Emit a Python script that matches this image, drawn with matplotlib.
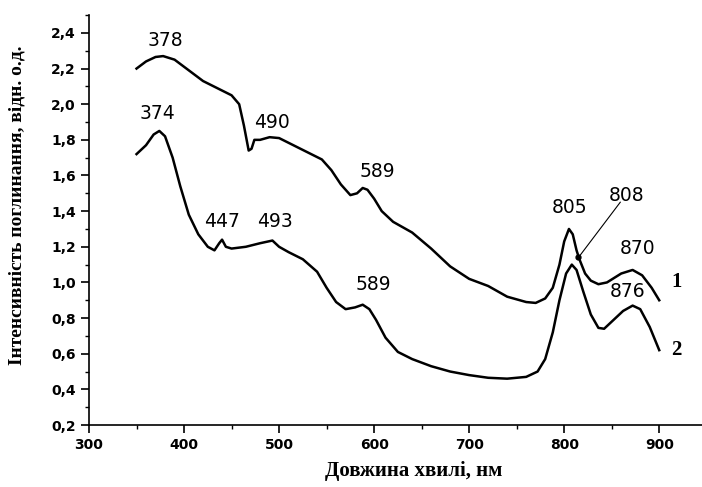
import matplotlib
matplotlib.use('Agg')
import matplotlib.pyplot as plt
from matplotlib.ticker import MultipleLocator

# спектр 1 (верхня крива)
wl_1 = [350, 360, 370, 378, 390, 405, 420, 435, 450, 458, 463, 468, 471, 474, 480, 490, 500,
        515, 530, 545, 555, 565, 575, 582, 588, 593, 600, 608, 620, 640, 660, 680, 700, 720,
        740, 760, 770, 780, 788, 795, 800, 805, 809, 813, 816, 822, 828, 836, 845, 860, 872,
        882, 892, 900]
abs_1 = [2.20, 2.24, 2.265, 2.27, 2.25, 2.19, 2.13, 2.09, 2.05, 2.00, 1.88, 1.74, 1.75, 1.80,
         1.80, 1.815, 1.81, 1.77, 1.73, 1.69, 1.63, 1.55, 1.49, 1.50, 1.53, 1.52, 1.47, 1.40,
         1.34, 1.28, 1.19, 1.09, 1.02, 0.98, 0.92, 0.89, 0.885, 0.91, 0.97, 1.10, 1.23, 1.30,
         1.27, 1.18, 1.13, 1.05, 1.01, 0.99, 1.00, 1.05, 1.07, 1.04, 0.97, 0.90]

# спектр 2 (нижня крива)
wl_2 = [350, 360, 368, 374, 380, 388, 396, 405, 415, 425, 432, 437, 440, 444, 450, 465, 480,
        493, 500, 510, 525, 540, 550, 560, 570, 580, 588, 595, 602, 612, 625, 640, 660, 680,
        700, 720, 740, 760, 772, 780, 788, 795, 802, 808, 813, 820, 828, 836, 842, 850, 862,
        872, 880, 890, 900]
abs_2 = [1.72, 1.77, 1.83, 1.85, 1.82, 1.70, 1.54, 1.38, 1.27, 1.20, 1.18, 1.22, 1.24, 1.20,
         1.19, 1.20, 1.22, 1.235, 1.20, 1.17, 1.13, 1.06, 0.97, 0.89, 0.85, 0.86, 0.875, 0.85,
         0.79, 0.69, 0.61, 0.57, 0.53, 0.50, 0.48, 0.465, 0.46, 0.47, 0.50, 0.57, 0.72, 0.90,
         1.05, 1.10, 1.07, 0.95, 0.82, 0.745, 0.74, 0.78, 0.84, 0.87, 0.85, 0.75, 0.62]

# підписи піків: текст, x, y
peak_labels = ['378', '374', '490', '447', '493', '589', '589', '805', '808', '870', '876']
peak_x = [380, 372, 493, 440, 496, 603, 599, 806, 866, 877, 867]
peak_y = [2.36, 1.95, 1.90, 1.34, 1.34, 1.62, 0.99, 1.42, 1.49, 1.19, 0.95]

curve_names = ['1', '2']
curve_name_x = [913, 912]
curve_name_y = [1.00, 0.62]

x_ticks = [300, 400, 500, 600, 700, 800, 900]
y_ticks = [0.2, 0.4, 0.6, 0.8, 1.0, 1.2, 1.4, 1.6, 1.8, 2.0, 2.2, 2.4]
y_tick_labels = ['0,2', '0,4', '0,6', '0,8', '1,0', '1,2', '1,4', '1,6', '1,8', '2,0', '2,2', '2,4']

fig = plt.figure(figsize=(7.02, 4.87), dpi=100)
ax = fig.add_axes([0.1268, 0.1273, 0.8732, 0.8417])

ax.plot(wl_1, abs_1, color='black', lw=1.8)
ax.plot(wl_2, abs_2, color='black', lw=1.8)

for t, x, y in zip(peak_labels, peak_x, peak_y):
    ax.text(x, y, t, ha='center', va='center', fontsize=13.5, family='DejaVu Sans')

# стрілка до піку 808
ax.plot([859, 815], [1.45, 1.14], color='black', lw=0.8)
ax.plot([815], [1.14], 'o', color='black', ms=3.5)

for t, x, y in zip(curve_names, curve_name_x, curve_name_y):
    ax.text(x, y, t, ha='left', va='center', fontsize=15, fontweight='bold', family='Liberation Serif')

ax.set_xlim(300, 945)
ax.set_ylim(0.2, 2.5)
ax.set_xticks(x_ticks)
ax.set_yticks(y_ticks)
ax.set_yticklabels(y_tick_labels)
ax.xaxis.set_minor_locator(MultipleLocator(50))
ax.yaxis.set_minor_locator(MultipleLocator(0.1))

for s in ['top', 'right']:
    ax.spines[s].set_visible(False)
for s in ['left', 'bottom']:
    ax.spines[s].set_linewidth(1.2)

ax.tick_params(which='major', direction='out', length=6, width=1.2, pad=3.5)
ax.tick_params(which='minor', direction='out', length=3, width=1.0)
for lab in ax.get_xticklabels() + ax.get_yticklabels():
    lab.set_family('DejaVu Sans')
    lab.set_fontweight('bold')
    lab.set_fontsize(10)

fig.text(0.59, 0.032, 'Довжина хвилі, нм', ha='center', va='center',
         fontsize=15, fontweight='bold', family='Liberation Serif')
fig.text(0.024, 0.579, 'Інтенсивність поглинання, відн. о.д.', ha='center', va='center',
         rotation=90, fontsize=14, fontweight='bold', family='Liberation Serif')

fig.savefig('out.png', dpi=100)
plt.close()
